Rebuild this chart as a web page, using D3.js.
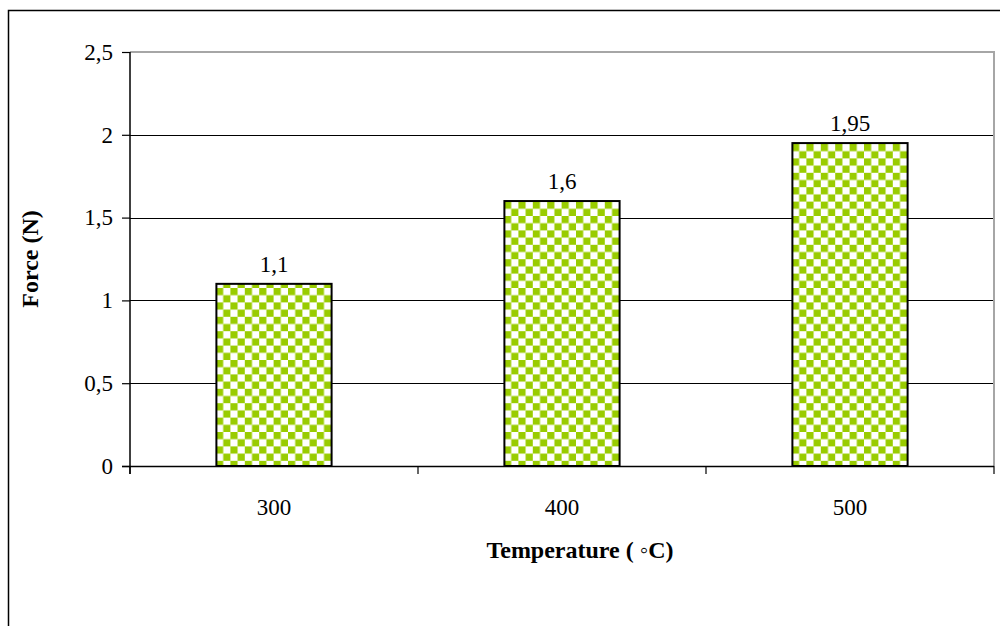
<!DOCTYPE html>
<html>
<head>
<meta charset="utf-8">
<script src="https://cdn.jsdelivr.net/npm/d3@7"></script>
<style>
  html, body { margin: 0; padding: 0; background: #fff; }
  svg { display: block; }
  text { font-family: "Liberation Serif", "Times New Roman", serif; fill: #000; }
</style>
</head>
<body>
<div id="chart"></div>
<script>
const categories = ["300", "400", "500"];
const forces = [1.1, 1.6, 1.95];
const valueLabels = ["1,1", "1,6", "1,95"];
const yTicks = [0, 0.5, 1, 1.5, 2, 2.5];
const yTickLabels = ["0", "0,5", "1", "1,5", "2", "2,5"];
const xTitle = "Temperature ( \u25E6C)";
const yTitle = "Force (N)";

const W = 1000, H = 626;
const plot = { left: 130, top: 52, right: 994, bottom: 466 };
const FS = 23;

const svg = d3.select("#chart").append("svg")
  .attr("width", W).attr("height", H);

const defs = svg.append("defs");
const pat = defs.append("pattern")
  .attr("id", "checker")
  .attr("patternUnits", "userSpaceOnUse")
  .attr("width", 14.4).attr("height", 14.4);
pat.append("rect").attr("width", 14.4).attr("height", 14.4).attr("fill", "#ffffff");
pat.append("rect").attr("x", 0).attr("y", 0).attr("width", 7.2).attr("height", 7.2).attr("fill", "#99cc00");
pat.append("rect").attr("x", 7.2).attr("y", 7.2).attr("width", 7.2).attr("height", 7.2).attr("fill", "#99cc00");

// outer frame (extends beyond the picture on right/bottom)
svg.append("path")
  .attr("d", `M8.5,${H + 5} L8.5,10.5 L${W + 5},10.5`)
  .attr("fill", "none").attr("stroke", "#000").attr("stroke-width", 1.5);

const x = d3.scaleBand().domain(categories)
  .range([plot.left, plot.right]).paddingInner(0.6).paddingOuter(0.3);
const xOuter = d3.scaleBand().domain(categories)
  .range([plot.left, plot.right]).padding(0);
const y = d3.scaleLinear().domain([0, 2.5]).range([plot.bottom, plot.top]);

// gridlines
svg.append("g").selectAll("line")
  .data(yTicks.filter(d => d > 0 && d < 2.5))
  .join("line")
  .attr("x1", plot.left).attr("x2", plot.right)
  .attr("y1", d => Math.round(y(d)) + 0.5).attr("y2", d => Math.round(y(d)) + 0.5)
  .attr("stroke", "#000").attr("stroke-width", 1);

// gray plot border (top and right)
svg.append("path")
  .attr("d", `M${plot.left},${plot.top} L${plot.right},${plot.top} L${plot.right},${plot.bottom}`)
  .attr("fill", "none").attr("stroke", "#a6a6a6").attr("stroke-width", 2);

// bars
svg.append("g").selectAll("rect")
  .data(forces)
  .join("rect")
  .attr("x", (d, i) => x(categories[i]))
  .attr("y", d => y(d))
  .attr("width", x.bandwidth())
  .attr("height", d => plot.bottom - y(d))
  .attr("fill", "url(#checker)")
  .attr("stroke", "#000").attr("stroke-width", 2);

// value labels
svg.append("g").selectAll("text")
  .data(forces)
  .join("text")
  .attr("x", (d, i) => x(categories[i]) + x.bandwidth() / 2)
  .attr("y", d => y(d) - 12)
  .attr("text-anchor", "middle")
  .attr("font-size", FS)
  .text((d, i) => valueLabels[i]);

// y axis
const yAxis = d3.axisLeft(y).tickValues(yTicks)
  .tickFormat((d, i) => yTickLabels[i]).tickSize(8).tickPadding(9);
const gy = svg.append("g").attr("transform", `translate(${plot.left},0)`).call(yAxis);
gy.select(".domain").attr("stroke", "#000").attr("stroke-width", 1.5)
  .attr("d", `M0,${plot.top}V${plot.bottom + 8}`);
gy.selectAll(".tick line").attr("stroke", "#000").attr("stroke-width", 1.2);
gy.selectAll(".tick text").attr("font-size", FS)
  .attr("font-family", "Liberation Serif, Times New Roman, serif").attr("fill", "#000");

// x axis
const gx = svg.append("g").attr("transform", `translate(0,${plot.bottom})`);
gx.append("line").attr("x1", plot.left - 8).attr("x2", plot.right)
  .attr("y1", 0.5).attr("y2", 0.5).attr("stroke", "#000").attr("stroke-width", 1.5);
const bounds = categories.map(c => xOuter(c)).concat([xOuter(categories[categories.length - 1]) + xOuter.bandwidth()]);
gx.selectAll("line.tk").data(bounds).join("line").attr("class", "tk")
  .attr("x1", d => d).attr("x2", d => d).attr("y1", 0).attr("y2", 8)
  .attr("stroke", "#000").attr("stroke-width", 1.2);
gx.selectAll("text").data(categories).join("text")
  .attr("x", d => xOuter(d) + xOuter.bandwidth() / 2)
  .attr("y", 49)
  .attr("text-anchor", "middle").attr("font-size", FS)
  .text(d => d);

// axis titles
svg.append("text")
  .attr("x", 580).attr("y", 558)
  .attr("text-anchor", "middle").attr("font-size", 24).attr("font-weight", "bold")
  .text(xTitle);
svg.append("text")
  .attr("transform", `translate(38,${(plot.top + plot.bottom) / 2}) rotate(-90)`)
  .attr("text-anchor", "middle").attr("font-size", 24).attr("font-weight", "bold")
  .text(yTitle);
</script>
</body>
</html>
